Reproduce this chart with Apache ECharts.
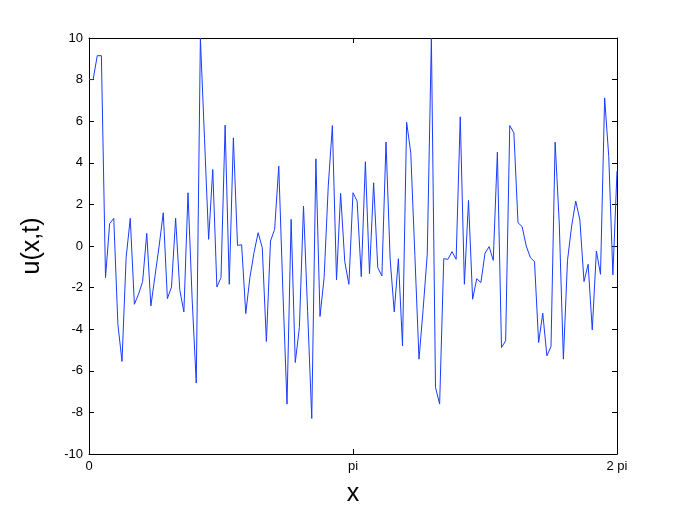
<!DOCTYPE html>
<html>
<head>
<meta charset="utf-8">
<script src="https://cdn.jsdelivr.net/npm/echarts@6/dist/echarts.min.js"></script>
<style>
html,body{margin:0;padding:0;background:#fff;}
#c{width:681px;height:512px;}
</style>
</head>
<body>
<div id="c"></div>
<script>
// number of intervals across [0, 2*pi]
const nIntervals = 128;
const uValues = [
  8.0, 8.0, 9.15, 9.15, -1.52, 1.07, 1.33, -3.76, -5.55, -0.56,
  1.33, -2.8, -2.32, -1.71, 0.61, -2.88, -1.44, 0.0, 1.6, -2.53,
  -1.97, 1.33, -2.1, -3.17, 2.56, -2.54, -6.59, 10.0, 5.17, 0.32,
  3.68, -1.97, -1.52, 5.81, -1.84, 5.2, 0.03, 0.06, -3.25, -1.52,
  -0.32, 0.64, -0.08, -4.59, 0.24, 0.8, 3.84, -2.16, -7.6, 1.28,
  -5.6, -3.92, 1.92, -3.16, -8.29, 4.19, -3.39, -1.52, 2.88, 5.79,
  -1.63, 2.53, -0.75, -1.84, 2.56, 2.16, -1.47, 4.05, -1.33, 3.04,
  -1.04, -1.44, 5.0, -0.62, -3.17, -0.61, -4.8, 5.95, 4.48, -0.46,
  -5.44, -3.04, -0.4, 10.0, -6.8, -7.6, -0.61, -0.64, -0.27, -0.64,
  6.21, -1.84, 2.19, -2.56, -1.57, -1.76, -0.35, -0.03, -0.69, 4.51,
  -4.88, -4.56, 5.79, 5.44, 1.12, 0.93, 0.0, -0.56, -0.75, -4.64,
  -3.23, -5.28, -4.83, 4.99, 1.1, -5.44, -0.69, 0.96, 2.16, 1.25,
  -1.71, -0.88, -4.03, -0.24, -1.36, 7.12, 4.3, -1.39, 3.6
];
// x tick labels at 0, pi, 2 pi
const xTickLabels = ['0', 'pi', '2 pi'];
const yMin = -10, yMax = 10, yStep = 2;

const step = 2 * Math.PI / nIntervals;
const seriesData = uValues.map((v, i) => [i * step, v]);

const font = 'Liberation Sans, Arial, Helvetica, sans-serif';
const tickStyle = {show: true, inside: true, length: 5, lineStyle: {color: '#000', width: 1}};
const lineStyle = {show: true, onZero: false, lineStyle: {color: '#000', width: 1}};

const chart = echarts.init(document.getElementById('c'), null, {renderer: 'canvas'});
chart.setOption({
  animation: false,
  backgroundColor: '#fff',
  grid: {left: 89, top: 38, width: 528, height: 418, containLabel: false},
  xAxis: [{
    type: 'value', min: 0, max: 2 * Math.PI, interval: Math.PI,
    position: 'bottom',
    axisLine: lineStyle, axisTick: tickStyle, splitLine: {show: false},
    axisLabel: {
      color: '#000', fontFamily: font, fontSize: 13, margin: 6,
      formatter: v => xTickLabels[Math.round(v / Math.PI)] || ''
    },
    name: 'x', nameLocation: 'middle', nameGap: 28,
    nameTextStyle: {color: '#000', fontFamily: font, fontSize: 25}
  }, {
    type: 'value', min: 0, max: 2 * Math.PI, interval: Math.PI,
    position: 'top',
    axisLine: lineStyle, axisTick: tickStyle, splitLine: {show: false},
    axisLabel: {show: false}
  }],
  yAxis: [{
    type: 'value', min: yMin, max: yMax, interval: yStep,
    position: 'left',
    axisLine: lineStyle, axisTick: tickStyle, splitLine: {show: false},
    axisLabel: {color: '#000', fontFamily: font, fontSize: 13, margin: 6},
    name: 'u(x,t)', nameLocation: 'middle', nameGap: 44, nameRotate: 90,
    nameTextStyle: {color: '#000', fontFamily: font, fontSize: 25}
  }, {
    type: 'value', min: yMin, max: yMax, interval: yStep,
    position: 'right',
    axisLine: lineStyle, axisTick: tickStyle, splitLine: {show: false},
    axisLabel: {show: false}
  }],
  series: [{
    type: 'line',
    data: seriesData,
    xAxisIndex: 0, yAxisIndex: 0,
    showSymbol: false, symbol: 'none',
    lineStyle: {color: '#1a3cff', width: 1},
    clip: true
  }]
});
</script>
</body>
</html>
